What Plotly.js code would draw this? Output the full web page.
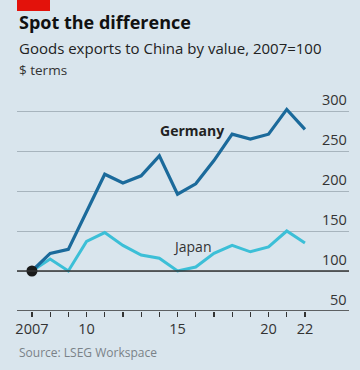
<!DOCTYPE html>
<html><head><meta charset="utf-8">
<script src="https://cdn.plot.ly/plotly-3.0.1.min.js"></script>
<style>html,body{margin:0;padding:0;background:#d9e5ed;}#chart{width:360px;height:370px;}</style>
</head><body><div id="chart"></div>
<script>
const years = [2007,2008,2009,2010,2011,2012,2013,2014,2015,2016,2017,2018,2019,2020,2021,2022];
const germany = [100,122,127,175,221,210,219,244,196,209,238,271,265,271,302,277];
const japan = [100,115,100,137,148,132,120,116,100,105,122,132,124,130,150,135];
const yTicks = [50,100,150,200,250,300];
const xTickVals = years;
const xTickText = ['2007','','','10','','','','','15','','','','','20','','22'];

const W=360,H=370,mL=17,mR=11,mT=95,mB=59;
const ph = H-mT-mB;
const py = p => (H-mB-p)/ph; // pixel y -> paper y
const font = 'Open Sans, DejaVu Sans, sans-serif';

const traces = [
  {x: years, y: japan, mode:'lines', line:{color:'#3cbfd7', width:3}, hoverinfo:'skip'},
  {x: years, y: germany, mode:'lines', line:{color:'#1b6a9b', width:3.2}, hoverinfo:'skip'},
  {x: [years[0]], y: [germany[0]], mode:'markers', marker:{color:'#1a1a1a', size:11}, hoverinfo:'skip'}
];

const annotations = yTicks.map(v => ({
  xref:'paper', yref:'y', x:1, y:v, text:String(v), showarrow:false,
  xanchor:'right', yanchor:'bottom', yshift:0, font:{family:font, size:14.5, color:'#333'}
}));
annotations.push(
  {xref:'x', yref:'y', x:2015.8, y:276, text:'<b>Germany</b>', showarrow:false, font:{family:font,size:14,color:'#222'}},
  {xref:'x', yref:'y', x:2015.8, y:131, text:'Japan', showarrow:false, font:{family:font,size:14,color:'#333'}},
  {xref:'paper', yref:'paper', x:0, xanchor:'left', y:py(22), yanchor:'middle', text:'<b>Spot the difference</b>', showarrow:false, font:{family:font,size:18,color:'#111'}},
  {xref:'paper', yref:'paper', x:0, xanchor:'left', y:py(48), yanchor:'middle', text:'Goods exports to China by value, 2007=100', showarrow:false, font:{family:font,size:15,color:'#222'}},
  {xref:'paper', yref:'paper', x:0, xanchor:'left', y:py(70), yanchor:'middle', text:'$ terms', showarrow:false, font:{family:font,size:13.5,color:'#333'}},
  {xref:'paper', yref:'paper', x:0, xanchor:'left', y:py(352), yanchor:'middle', text:'Source: LSEG Workspace', showarrow:false, font:{family:font,size:12,color:'#7a8288'}}
);

const layout = {
  width:W, height:H, margin:{l:mL,r:mR,t:mT,b:mB},
  paper_bgcolor:'#d9e5ed', plot_bgcolor:'#d9e5ed', showlegend:false,
  xaxis:{range:[2006.18,2024.42], tickvals:xTickVals, ticktext:xTickText, ticks:'outside', ticklen:5, tickwidth:1.2, tickcolor:'#333',
    showgrid:false, zeroline:false, showline:false, tickfont:{family:font,size:14.5,color:'#333'}, fixedrange:true},
  yaxis:{range:[50,320], tickvals:yTicks, showticklabels:false, showgrid:true, gridcolor:'#a7b4bd', gridwidth:1, zeroline:false, fixedrange:true},
  shapes:[
    {type:'line', xref:'paper', yref:'y', x0:0, x1:1, y0:100, y1:100, line:{color:'#333', width:1.3}},
    {type:'line', xref:'paper', yref:'y', x0:0, x1:1, y0:50, y1:50, line:{color:'#333', width:1.3}},
    {type:'rect', xref:'paper', yref:'paper', x0:0, x1:(50-mL)/(W-mL-mR), y0:py(11), y1:py(-2), line:{width:0}, fillcolor:'#e3120b'}
  ],
  annotations: annotations
};
Plotly.newPlot('chart', traces, layout, {displayModeBar:false, staticPlot:true});
</script></body></html>
